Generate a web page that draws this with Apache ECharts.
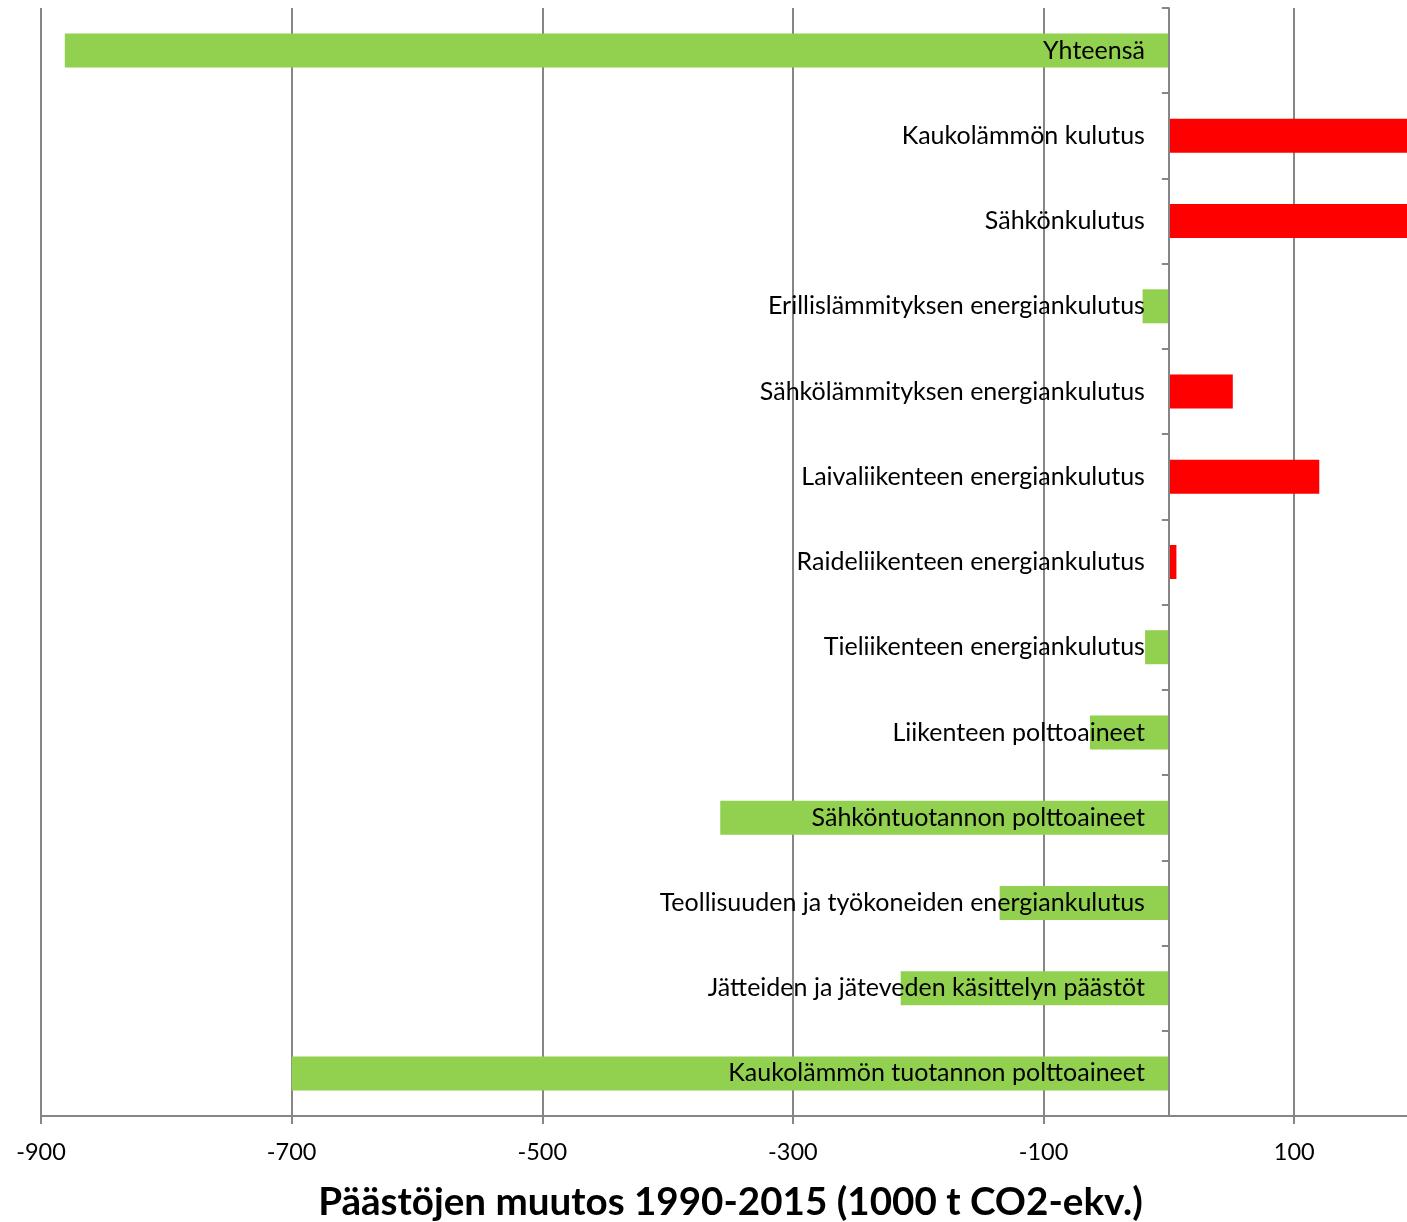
<!DOCTYPE html>
<html>
<head>
<meta charset="utf-8">
<script src="https://cdn.jsdelivr.net/npm/echarts@6/dist/echarts.min.js"></script>
<style>
html,body{margin:0;padding:0;background:#fff;}
#chart{width:1407px;height:1222px;}
</style>
</head>
<body>
<div id="chart"></div>
<script>
const categories = [
  "Yhteensä",
  "Kaukolämmön kulutus",
  "Sähkönkulutus",
  "Erillislämmityksen energiankulutus",
  "Sähkölämmityksen energiankulutus",
  "Laivaliikenteen energiankulutus",
  "Raideliikenteen energiankulutus",
  "Tieliikenteen energiankulutus",
  "Liikenteen polttoaineet",
  "Sähköntuotannon polttoaineet",
  "Teollisuuden ja työkoneiden energiankulutus",
  "Jätteiden ja jäteveden käsittelyn päästöt",
  "Kaukolämmön tuotannon polttoaineet"
];
const values = [-881, 230, 222, -21, 51, 120, 6, -19, -63, -358, -135, -214, -700];
const axisTitle = "Päästöjen muutos 1990-2015 (1000 t CO2-ekv.)";
const xMin = -900, xMax = 190, xInterval = 200;

const FONT = "Lato";
const GREEN = "#92D050", RED = "#FF0000", GREY = "#868686";

const W = 1407, H = 1222;
const gridLeft = 41, gridRight = 0, gridTop = 8, gridBottom = 106;
const gridWidth = W - gridLeft - gridRight;
// move the category axis to the zero position of the value axis
const zeroOffset = -((0 - xMin) / (xMax - xMin)) * gridWidth;

const chart = echarts.init(document.getElementById('chart'), null, {renderer: 'canvas'});
chart.setOption({
  animation: false,
  backgroundColor: '#fff',
  grid: {left: gridLeft, right: gridRight, top: gridTop, bottom: gridBottom, containLabel: false, outerBoundsMode: 'none'},
  xAxis: {
    type: 'value',
    min: xMin, max: xMax, interval: xInterval,
    name: axisTitle,
    nameLocation: 'middle',
    nameGap: 67,
    nameTextStyle: {fontFamily: FONT, fontSize: 38.6, fontWeight: 'bold', color: '#000', padding: [0, 0, 0, 13]},
    axisLine: {show: true, lineStyle: {color: GREY, width: 2}},
    axisTick: {show: true, length: 8, lineStyle: {color: GREY, width: 2}},
    axisLabel: {fontFamily: FONT, fontSize: 23.5, color: '#000', margin: 24, showMaxLabel: false},
    splitLine: {show: true, showMaxLine: false, lineStyle: {color: GREY, width: 2}}
  },
  yAxis: {
    type: 'category',
    data: categories,
    inverse: true,
    position: 'left',
    offset: zeroOffset,
    z: 10,
    axisLine: {show: true, onZero: false, lineStyle: {color: GREY, width: 2}},
    axisTick: {show: true, length: 7, lineStyle: {color: GREY, width: 2}},
    axisLabel: {fontFamily: FONT, fontSize: 25, color: '#000', margin: 24},
    splitLine: {show: false}
  },
  series: [{
    type: 'bar',
    data: values.map(v => ({value: v, itemStyle: {color: v < 0 ? GREEN : RED}})),
    barWidth: 34,
    clip: true,
    z: 2
  }]
});
</script>
</body>
</html>
